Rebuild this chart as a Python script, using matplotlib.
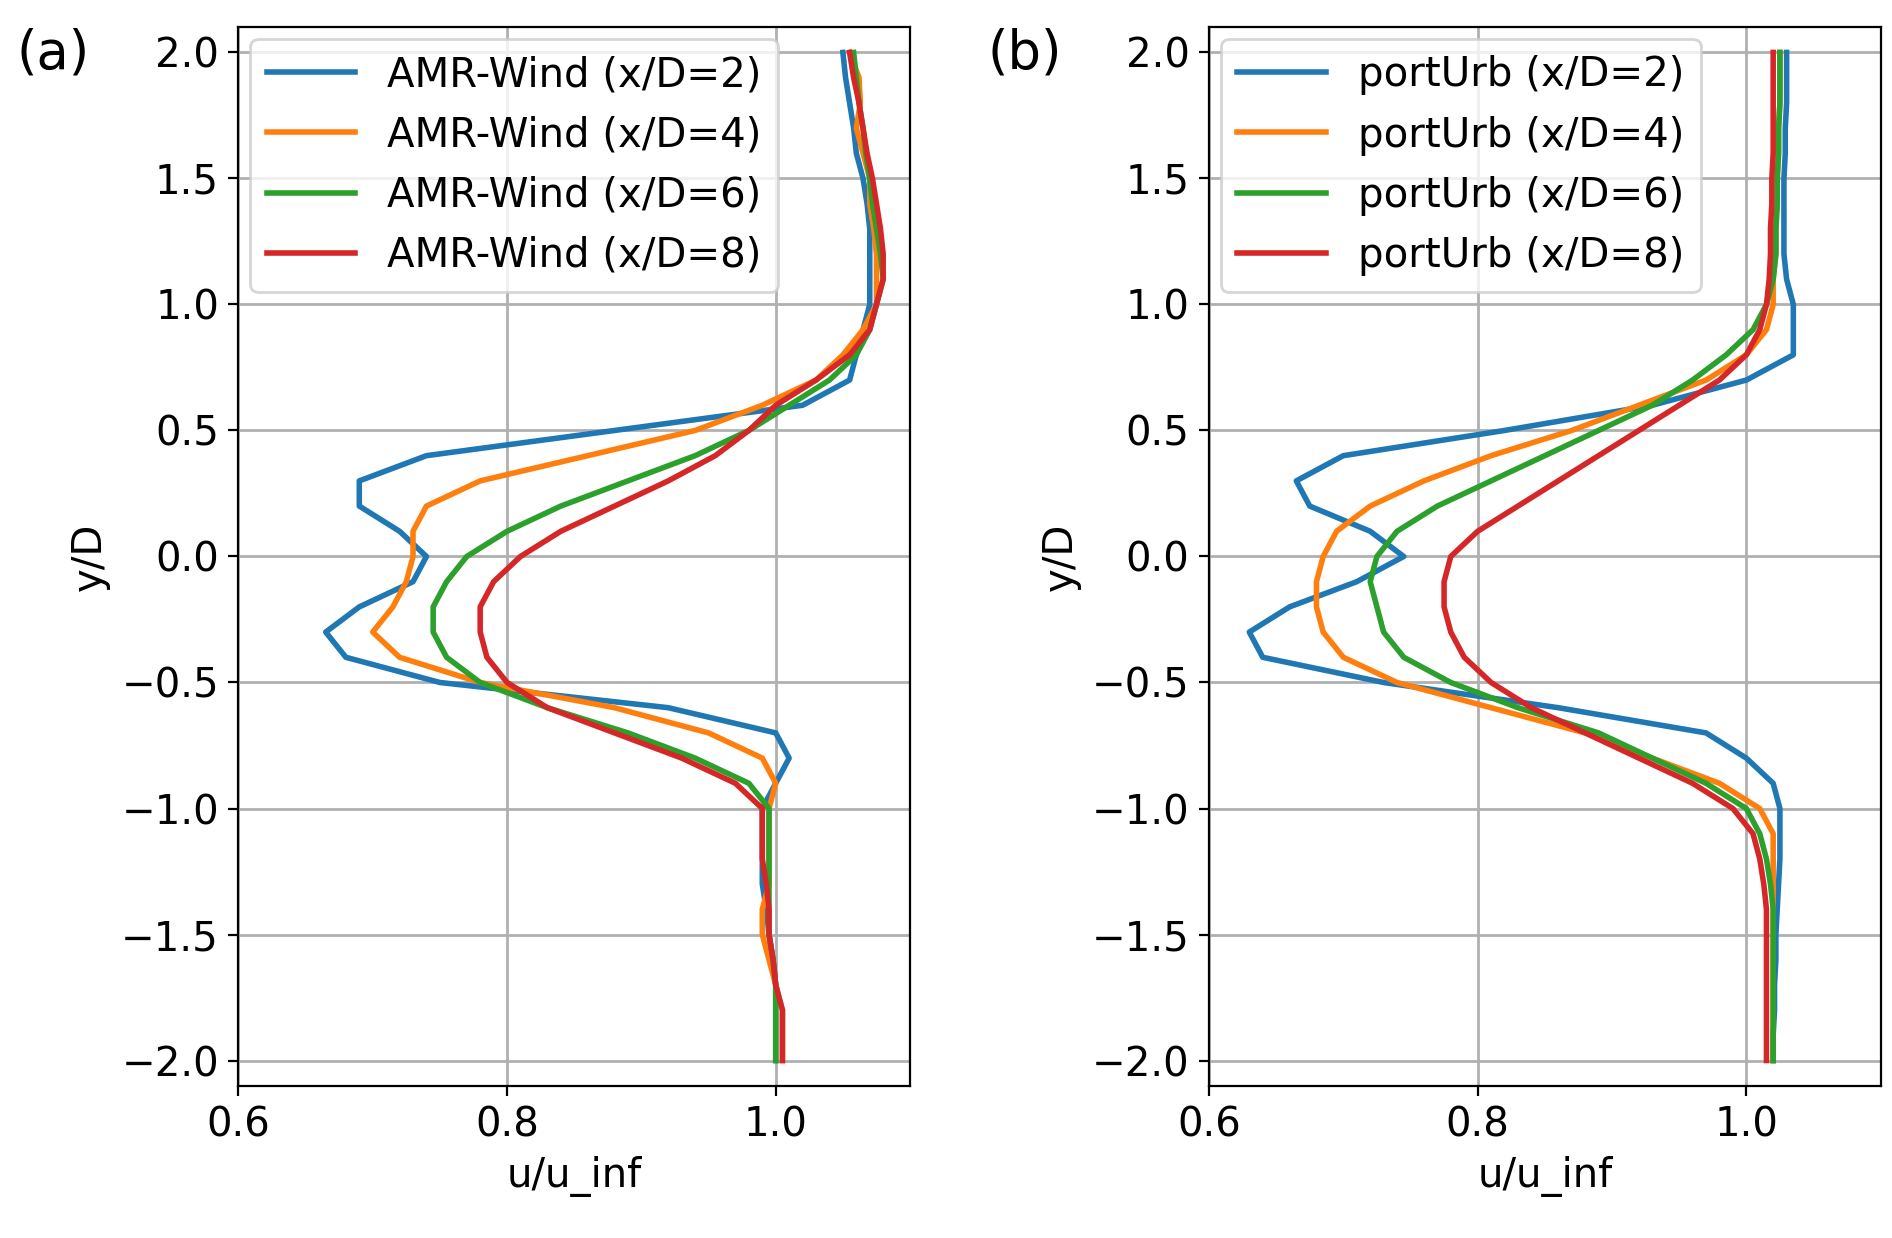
import numpy as np
import matplotlib.pyplot as plt

y = np.round(np.arange(-2.0, 2.01, 0.1), 1)

amr2 = [1.0, 1.0, 1.0, 1.0, 0.998, 0.995, 0.993, 0.99, 0.99, 0.99, 0.99, 1.0, 1.01, 1.0, 0.92, 0.75,
        0.68, 0.665, 0.69, 0.73, 0.74, 0.72, 0.69, 0.69, 0.74, 0.88, 1.02, 1.055, 1.06, 1.065, 1.07,
        1.07, 1.07, 1.07, 1.068, 1.065, 1.06, 1.058, 1.055, 1.052, 1.05]
amr4 = [1.005, 1.005, 1.005, 1.0, 0.995, 0.99, 0.99, 0.995, 0.995, 0.995, 0.995, 1.0, 0.99, 0.95, 0.88, 0.78,
        0.72, 0.70, 0.715, 0.725, 0.73, 0.73, 0.74, 0.78, 0.86, 0.94, 0.99, 1.03, 1.05, 1.065, 1.075,
        1.075, 1.075, 1.073, 1.07, 1.07, 1.065, 1.06, 1.063, 1.062, 1.055]
amr6 = [1.0, 1.0, 1.0, 1.0, 0.998, 0.995, 0.995, 0.995, 0.995, 0.995, 0.995, 0.98, 0.94, 0.89, 0.83, 0.78,
        0.755, 0.745, 0.745, 0.755, 0.77, 0.80, 0.84, 0.89, 0.94, 0.98, 1.01, 1.04, 1.06, 1.07, 1.075,
        1.08, 1.078, 1.075, 1.072, 1.07, 1.067, 1.065, 1.062, 1.06, 1.058]
amr8 = [1.005, 1.005, 1.005, 1.0, 0.998, 0.995, 0.995, 0.993, 0.99, 0.99, 0.99, 0.97, 0.93, 0.88, 0.83, 0.80,
        0.785, 0.78, 0.78, 0.79, 0.81, 0.84, 0.88, 0.92, 0.955, 0.98, 1.0, 1.03, 1.055, 1.07, 1.075,
        1.08, 1.08, 1.078, 1.075, 1.072, 1.068, 1.065, 1.062, 1.058, 1.055]

pu2 = [1.02, 1.02, 1.021, 1.021, 1.022, 1.022, 1.023, 1.024, 1.025, 1.025, 1.025, 1.02, 1.0, 0.97, 0.86, 0.73,
       0.64, 0.63, 0.66, 0.71, 0.745, 0.72, 0.675, 0.665, 0.70, 0.82, 0.93, 1.0, 1.035, 1.035, 1.035,
       1.03, 1.028, 1.028, 1.028, 1.028, 1.029, 1.029, 1.03, 1.03, 1.03]
pu4 = [1.02, 1.02, 1.02, 1.02, 1.02, 1.02, 1.02, 1.02, 1.02, 1.02, 1.01, 0.98, 0.93, 0.88, 0.81, 0.74,
       0.70, 0.685, 0.68, 0.68, 0.685, 0.695, 0.72, 0.76, 0.81, 0.87, 0.92, 0.97, 1.0, 1.015, 1.02,
       1.02, 1.022, 1.022, 1.023, 1.023, 1.024, 1.024, 1.025, 1.025, 1.025]
pu6 = [1.02, 1.02, 1.02, 1.02, 1.02, 1.02, 1.02, 1.018, 1.015, 1.01, 1.0, 0.97, 0.93, 0.89, 0.83, 0.78,
       0.745, 0.73, 0.725, 0.72, 0.725, 0.74, 0.77, 0.81, 0.85, 0.89, 0.93, 0.96, 0.985, 1.005, 1.015,
       1.02, 1.022, 1.022, 1.023, 1.023, 1.024, 1.024, 1.025, 1.025, 1.025]
pu8 = [1.015, 1.015, 1.015, 1.015, 1.015, 1.015, 1.015, 1.013, 1.01, 1.005, 0.99, 0.96, 0.92, 0.88, 0.84, 0.81,
       0.79, 0.78, 0.775, 0.775, 0.78, 0.80, 0.83, 0.86, 0.89, 0.92, 0.95, 0.98, 1.0, 1.01, 1.015,
       1.017, 1.018, 1.018, 1.019, 1.019, 1.02, 1.02, 1.02, 1.02, 1.02]

xds = [2, 4, 6, 8]
colors = ['#1f77b4', '#ff7f0e', '#2ca02c', '#d62728']

fig = plt.figure(figsize=(9.46, 6.19), dpi=200)
axa = fig.add_axes([0.126, 0.123, 0.355, 0.855])
axb = fig.add_axes([0.639, 0.123, 0.355, 0.855])

for ax, series, name, tag in [(axa, [amr2, amr4, amr6, amr8], 'AMR-Wind', '(a)'),
                              (axb, [pu2, pu4, pu6, pu8], 'portUrb', '(b)')]:
    for s, d, c in zip(series, xds, colors):
        ax.plot(s, y, color=c, lw=2.0, label=f'{name} (x/D={d})')
    ax.set_xlim(0.6, 1.1)
    ax.set_ylim(-2.1, 2.1)
    ax.set_xticks([0.6, 0.8, 1.0])
    ax.set_yticks(np.arange(-2.0, 2.01, 0.5))
    ax.grid(True, lw=1.0)
    ax.set_xlabel('u/u_inf', fontsize=14.5)
    ax.set_ylabel('y/D', fontsize=14.5)
    ax.tick_params(labelsize=14.5)
    ax.legend(loc='upper left', fontsize=14.5, borderaxespad=0.3, handlelength=2.2)
    ax.text(-0.33, 1.0, tag, transform=ax.transAxes, fontsize=19, va='top')

fig.savefig('out.png', dpi=200)
